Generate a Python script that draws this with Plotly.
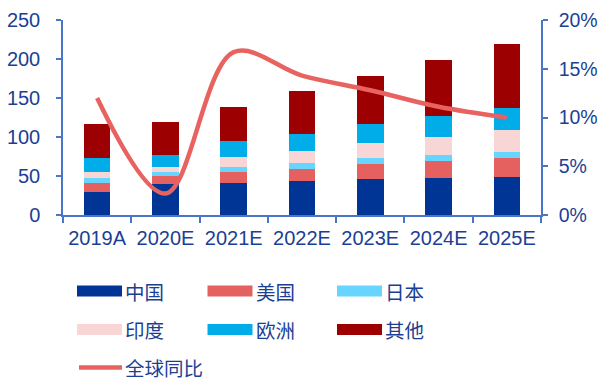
import plotly.graph_objects as go

# Market size by region (stacked bars) and global year-on-year growth (line)
years = ["2019A", "2020E", "2021E", "2022E", "2023E", "2024E", "2025E"]
china = [29, 39.5, 41.5, 43.5, 46, 48, 48.5]
usa = [12, 11, 13.5, 15.5, 19.5, 21.5, 25]
japan = [7, 4.5, 6.5, 7.5, 7, 7, 7]
india = [7.5, 7, 13.5, 15.5, 20, 24, 28.5]
europe = [17.5, 15, 19.5, 22, 24.5, 26.5, 28]
others = [43.5, 42, 44, 55.5, 61.5, 71.5, 82]
growth = [0.12, 0.022, 0.167, 0.143, 0.128, 0.111, 0.100]

series_names = ["中国", "美国", "日本", "印度", "欧洲", "其他"]
series_values = [china, usa, japan, india, europe, others]
series_colors = ["#003595", "#E46160", "#66D5FF", "#F9D6D6", "#00ADE9", "#9C0000"]
line_name = "全球同比"
line_color = "#E8625F"

text_color = "#1B3F95"
axis_color = "#4A76CA"
tick_font = dict(family="Liberation Sans, Arial, sans-serif", size=20, color=text_color)
cjk_font = dict(family="Noto Sans CJK SC, sans-serif", size=19.5, color=text_color)

fig = go.Figure()
for name, vals, col in zip(series_names, series_values, series_colors):
    fig.add_trace(go.Bar(x=years, y=vals, name=name, marker=dict(color=col, line=dict(width=0)),
                         showlegend=False))

fig.add_trace(go.Scatter(x=years, y=growth, name=line_name, yaxis="y2", mode="lines",
                         line=dict(color=line_color, width=4.5, shape="spline", smoothing=1.0),
                         showlegend=False))

# Plot area in pixels, used to place the hand-built legend below the axes
W, H = 602, 381
L, R, T, B = 63, 61, 20, 166
pw, ph = W - L - R, H - T - B


def px_x(px):
    return (px - L) / pw


def px_y(py):
    return (H - B - py) / ph


shapes = []
annotations = []
col_x = [77, 207.5, 337]
row_y = [291, 329.5, 367.5]
sw_w, sw_h = 45, 11
for i, (name, col) in enumerate(zip(series_names, series_colors)):
    cx = col_x[i % 3]
    cy = row_y[i // 3]
    shapes.append(dict(type="rect", xref="paper", yref="paper",
                       x0=px_x(cx), x1=px_x(cx + sw_w), y0=px_y(cy + sw_h / 2), y1=px_y(cy - sw_h / 2),
                       fillcolor=col, line=dict(width=0), layer="above"))
    annotations.append(dict(xref="paper", yref="paper", x=px_x(cx + 47), y=px_y(cy),
                            xanchor="left", yanchor="middle", text=name, showarrow=False,
                            font=cjk_font, borderpad=0))
cx, cy = col_x[0], row_y[2]
shapes.append(dict(type="line", xref="paper", yref="paper",
                   x0=px_x(cx + 2), x1=px_x(cx + sw_w), y0=px_y(cy), y1=px_y(cy),
                   line=dict(color=line_color, width=4.5), layer="above"))
annotations.append(dict(xref="paper", yref="paper", x=px_x(cx + 47), y=px_y(cy),
                        xanchor="left", yanchor="middle", text=line_name, showarrow=False,
                        font=cjk_font, borderpad=0))

fig.update_layout(
    width=W, height=H,
    margin=dict(l=L, r=R, t=T, b=B, pad=0, autoexpand=False),
    barmode="stack", bargap=0.61,
    paper_bgcolor="white", plot_bgcolor="white",
    showlegend=False,
    xaxis=dict(showline=True, linecolor=axis_color, linewidth=1.5, ticks="outside",
               tickson="boundaries", ticklen=6, tickcolor=axis_color, tickwidth=1.5,
               tickfont=tick_font, showgrid=False, ticklabelstandoff=4, tickangle=0,
               automargin=False),
    yaxis=dict(range=[0, 250], dtick=50, showline=True, linecolor=axis_color, linewidth=1.5,
               ticks="outside", ticklen=5, tickcolor=axis_color, tickwidth=1.5,
               tickfont=tick_font, showgrid=False, zeroline=False, ticklabelstandoff=12,
               automargin=False),
    yaxis2=dict(range=[0, 0.2], dtick=0.05, tickformat=".0%", overlaying="y", side="right",
                showline=True, linecolor=axis_color, linewidth=1.5, ticks="outside", ticklen=5,
                tickcolor=axis_color, tickwidth=1.5,
                tickfont=dict(family=tick_font["family"], size=19.5, color=text_color),
                showgrid=False, zeroline=False, ticklabelstandoff=7, automargin=False),
    shapes=shapes, annotations=annotations,
)

fig.write_html("out.html")
